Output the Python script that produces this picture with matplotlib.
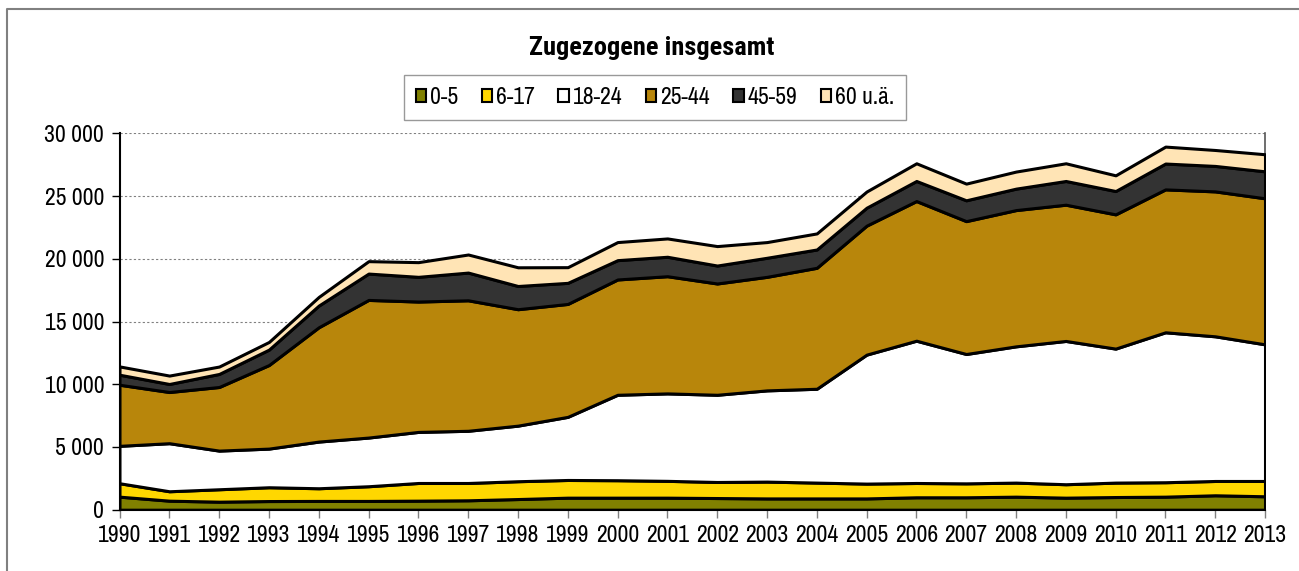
import matplotlib
matplotlib.use("Agg")
import matplotlib.pyplot as plt
from matplotlib.patches import Patch
from matplotlib.lines import Line2D
from matplotlib.ticker import FuncFormatter, MultipleLocator

plt.rcParams['font.family'] = ['Archivo Narrow', 'DejaVu Sans']

years = list(range(1990, 2014))
age_0_5 = [1040, 720, 640, 690, 700, 700, 720, 750, 850, 960, 960, 960,
           930, 900, 900, 900, 990, 990, 1040, 960, 1010, 1040, 1150, 1070]
age_6_17 = [1070, 750, 990, 1100, 1010, 1170, 1410, 1380, 1420, 1410, 1390, 1340,
            1280, 1340, 1260, 1180, 1140, 1110, 1120, 1070, 1150, 1150, 1140, 1220]
age_18_24 = [2980, 3830, 3080, 3080, 3720, 3880, 4070, 4160, 4430, 5030, 6810, 6970,
             6950, 7270, 7480, 10280, 11340, 10310, 10860, 11420, 10680, 11950, 11530, 10890]
age_25_44 = [4870, 4080, 5070, 6660, 9110, 10970, 10390, 10400, 9280, 9000, 9190, 9340,
             8870, 9050, 9640, 10280, 11130, 10590, 10860, 10860, 10700, 11390, 11550, 11640]
age_45_59 = [800, 640, 1040, 1230, 1730, 2100, 1970, 2210, 1850, 1680, 1540, 1550,
             1430, 1520, 1460, 1430, 1600, 1660, 1710, 1890, 1860, 2060, 2030, 2150]
age_60 = [660, 670, 590, 610, 690, 990, 1170, 1440, 1490, 1250, 1440, 1460,
          1550, 1250, 1280, 1290, 1410, 1330, 1360, 1410, 1250, 1350, 1270, 1360]

labels = ['0-5', '6-17', '18-24', '25-44', '45-59', '60 u.ä.']
colors = ['#808000', '#FFD700', '#FFFFFF', '#B8860B', '#333333', '#FFE4B5']

W, H = 1299, 571
fig = plt.figure(figsize=(W / 100, H / 100), dpi=100)
ax = fig.add_axes([119.5 / W, 1 - 509.7 / H, (1265 - 119.5) / W, (509.7 - 133.3) / H])

ax.stackplot(years, age_0_5, age_6_17, age_18_24, age_25_44, age_45_59, age_60,
             colors=colors, edgecolor='black', linewidth=2.2, zorder=3)

ax.set_xlim(1990, 2013)
ax.set_ylim(0, 30000)
ax.set_xticks(years)
ax.yaxis.set_major_locator(MultipleLocator(5000))
ax.yaxis.set_major_formatter(FuncFormatter(lambda v, p: f"{int(v):,}".replace(",", " ")))
ax.grid(axis='y', linestyle=(0, (2, 2)), color='#808080', linewidth=0.8, zorder=0)
ax.set_axisbelow(True)

ax.spines['top'].set_visible(False)
ax.spines['left'].set_color('black')
ax.spines['left'].set_linewidth(1.5)
ax.spines['bottom'].set_color('black')
ax.spines['bottom'].set_linewidth(1.5)
ax.spines['right'].set_color('#555555')
ax.spines['right'].set_linewidth(1.2)

ax.tick_params(axis='x', direction='out', length=6, color='#808080', width=1,
               labelsize=17, pad=5)
ax.tick_params(axis='y', direction='out', length=6, color='black', width=1,
               labelsize=17, pad=5)

fig.text(652 / W, 1 - 48 / H, 'Zugezogene insgesamt', ha='center', va='center',
         fontsize=19, fontweight='bold',
         family=['Roboto Condensed', 'Asap Condensed', 'Archivo Narrow', 'DejaVu Sans'])

handles = [Patch(facecolor=c, edgecolor='black', linewidth=1.5) for c in colors]
fig.legend(handles, labels, loc='center', bbox_to_anchor=(655 / W, 1 - 97.5 / H),
           ncol=6, fontsize=17, frameon=True, fancybox=False, edgecolor='#808080',
           handlelength=0.45, handleheight=0.45, handletextpad=0.15,
           columnspacing=1.0, borderpad=0.5, borderaxespad=0)

# outer chart frame
fig.add_artist(Line2D([7 / W, 7 / W, 1.0], [0.0, 1 - 9 / H, 1 - 9 / H],
                      transform=fig.transFigure, color='#808080', linewidth=1.5))

fig.savefig('out.png', dpi=100, facecolor='white')
